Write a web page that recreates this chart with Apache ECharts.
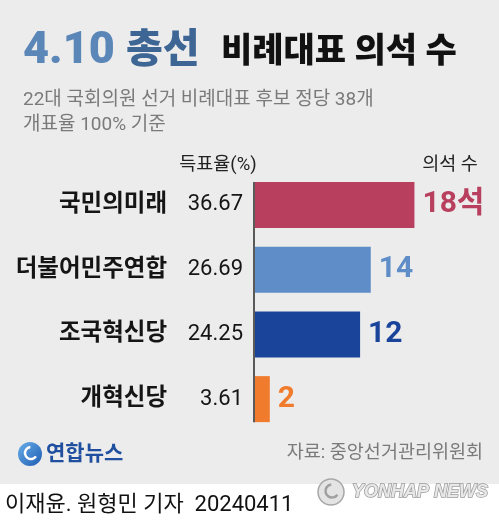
<!DOCTYPE html>
<html><head><meta charset="utf-8">
<script src="https://cdn.jsdelivr.net/npm/echarts@6/dist/echarts.min.js"></script>
<style>html,body{margin:0;padding:0;background:#fff}#c{width:499px;height:525px}</style>
</head><body><div id="c"></div>
<script>
const parties = ['국민의미래', '더불어민주연합', '조국혁신당', '개혁신당'];
const voteShare = [36.67, 26.69, 24.25, 3.61];
const seats = [18, 14, 12, 2];
const seatSuffix = ['석', '', '', ''];
const colors = ['#b8405e', '#5f8dc8', '#1a449a', '#f07b2c'];

const FONT = 'Roboto, "Noto Sans CJK KR", sans-serif';
const chart = echarts.init(document.getElementById('c'), null, {renderer: 'canvas'});

function txt(text, x, y, size, weight, fill, align, extra) {
  return {
    type: 'text', silent: true, z: 10,
    style: Object.assign({
      text: text, x: x, y: y,
      fontSize: size, fontWeight: weight, fontFamily: FONT,
      fill: fill, align: align || 'left', textAlign: align || 'left',
      verticalAlign: 'middle', textVerticalAlign: 'middle'
    }, extra || {})
  };
}

const option = {
  backgroundColor: '#ececec',
  animation: false,
  grid: {left: 254, right: 0, top: 172.5, height: 259, containLabel: false},
  xAxis: {type: 'value', min: 0, max: 56, show: false},
  yAxis: {
    type: 'category', data: parties, inverse: true,
    axisLine: {show: false}, axisTick: {show: false}, splitLine: {show: false},
    axisLabel: {
      margin: 11,
      formatter: function (v, i) { return '{n|' + v + '}{v|' + voteShare[i].toFixed(2) + '}'; },
      rich: {
        n: {fontSize: 23.5, fontWeight: 'bold', color: '#151515', fontFamily: FONT},
        v: {fontSize: 22, color: '#151515', width: 76, align: 'right', fontFamily: FONT}
      }
    }
  },
  series: [
    {
      type: 'bar', barWidth: 46,
      data: voteShare.map(function (v, i) { return {value: v, itemStyle: {color: colors[i]}}; }),
      label: {
        show: true, position: 'right', distance: 8,
        formatter: function (p) { return seats[p.dataIndex] + seatSuffix[p.dataIndex]; },
        fontSize: 30, fontWeight: 'bold', fontFamily: FONT,
        color: 'inherit'
      },
      z: 2
    },
    {
      type: 'custom', z: 3, silent: true,
      data: [[0, 0]],
      renderItem: function (params, api) {
        const a = api.coord([0, 0]);
        const b = api.coord([0, parties.length - 1]);
        return {type: 'line', shape: {x1: a[0], y1: a[1] - 23, x2: b[0], y2: b[1] + 23},
                style: {stroke: '#5a5a5a', lineWidth: 2}};
      }
    }
  ],
  graphic: [
    {type: 'rect', silent: true, z: 0, shape: {x: 0, y: 484, width: 499, height: 41}, style: {fill: '#ffffff'}},
    txt('4.10', 23, 52, 45, '900', '#5b86b8'),
    txt('총선', 126, 52, 40, '900', '#3d6694'),
    txt('비례대표 의석 수', 221, 53, 34, '900', '#111'),
    txt('22대 국회의원 선거 비례대표 후보 정당 38개', 23, 100, 19, 'normal', '#7a7a7a'),
    txt('개표율 100% 기준', 23, 125, 19, 'normal', '#7a7a7a'),
    txt('득표율(%)', 218, 165, 18.5, 'normal', '#222', 'center'),
    txt('의석 수', 450, 165, 18.5, 'normal', '#222', 'center'),
    txt('자료: 중앙선거관리위원회', 483, 453, 18.5, 'normal', '#7a7a7a', 'right'),
    // Yonhap logo
    {type: 'circle', silent: true, z: 10, shape: {cx: 30, cy: 454, r: 12},
      style: {fill: {type: 'linear', x: 0, y: 0, x2: 1, y2: 1, colorStops: [{offset: 0, color: '#6aaee8'}, {offset: 1, color: '#1d5cb3'}]}}},
    {type: 'arc', silent: true, z: 11, shape: {cx: 31, cy: 453, r: 6, startAngle: 0.6, endAngle: 4.6},
      style: {stroke: '#ffffff', lineWidth: 2.5, fill: null}},
    txt('연합뉴스', 46, 455, 21, 'bold', '#1f4f9e'),
    // footer
    txt('이재윤. 원형민 기자  20240411', 5, 505, 22, 'normal', '#111'),
    {type: 'circle', silent: true, z: 10, shape: {cx: 331, cy: 492, r: 13},
      style: {fill: '#e4e4e4', stroke: '#a8a8a8', lineWidth: 1.5}},
    {type: 'arc', silent: true, z: 11, shape: {cx: 332, cy: 491, r: 6.5, startAngle: 0.6, endAngle: 4.6},
      style: {stroke: '#a0a0a0', lineWidth: 2.5, fill: null}},
    txt('YONHAP NEWS', 352, 492, 18, 'bold', '#e8e8e8', 'left',
      {fontStyle: 'italic', fontFamily: 'Liberation Sans', stroke: '#9a9a9a', lineWidth: 1.5})
  ]
};
chart.setOption(option);
</script>
</body></html>
